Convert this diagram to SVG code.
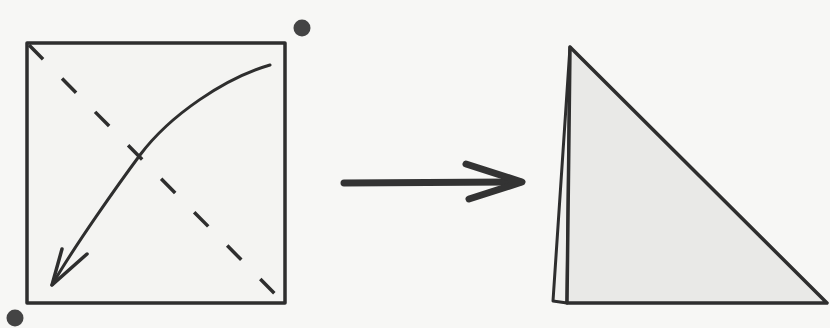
<svg xmlns="http://www.w3.org/2000/svg" width="830" height="328" viewBox="0 0 830 328">
<style>
.ln{fill:none;stroke:#2e2e2e;stroke-width:3.5;stroke-linecap:round;stroke-linejoin:round}
.dot{fill:#444}
</style>
<rect width="830" height="328" fill="#f7f7f5"/>
<g id="square">
<rect x="27" y="43" width="258" height="260" class="ln" style="fill:#f4f4f2"/>
<line x1="29" y1="45" x2="281" y2="300" class="ln" stroke-dasharray="20 27" style="stroke-linecap:butt;stroke-width:3.5"/>
<path d="M270,65 C225,78 170,115 140,155 C120,182 75,245 52,285" class="ln" style="stroke-width:3"/>
<path d="M62,249 L52,285 L87,254" class="ln"/>
</g>
<g id="dots">
<circle cx="302" cy="28" r="8.5" class="dot"/>
<circle cx="15" cy="318" r="8.5" class="dot"/>
</g>
<g id="connectors">
<line x1="344" y1="183" x2="520" y2="182" class="ln" style="stroke-width:7;stroke:#333"/>
<path d="M466,164 L522,182 L469,199" class="ln" style="stroke-width:7;stroke:#333"/>
</g>
<g id="triangle">
<path d="M570,47 L553,301 L567,303 Z" class="ln" style="fill:#f0f0ee;stroke-width:3"/>
<path d="M570,47 L827,303 L567,303 Z" class="ln" style="fill:#e9e9e7"/>
</g>
</svg>
